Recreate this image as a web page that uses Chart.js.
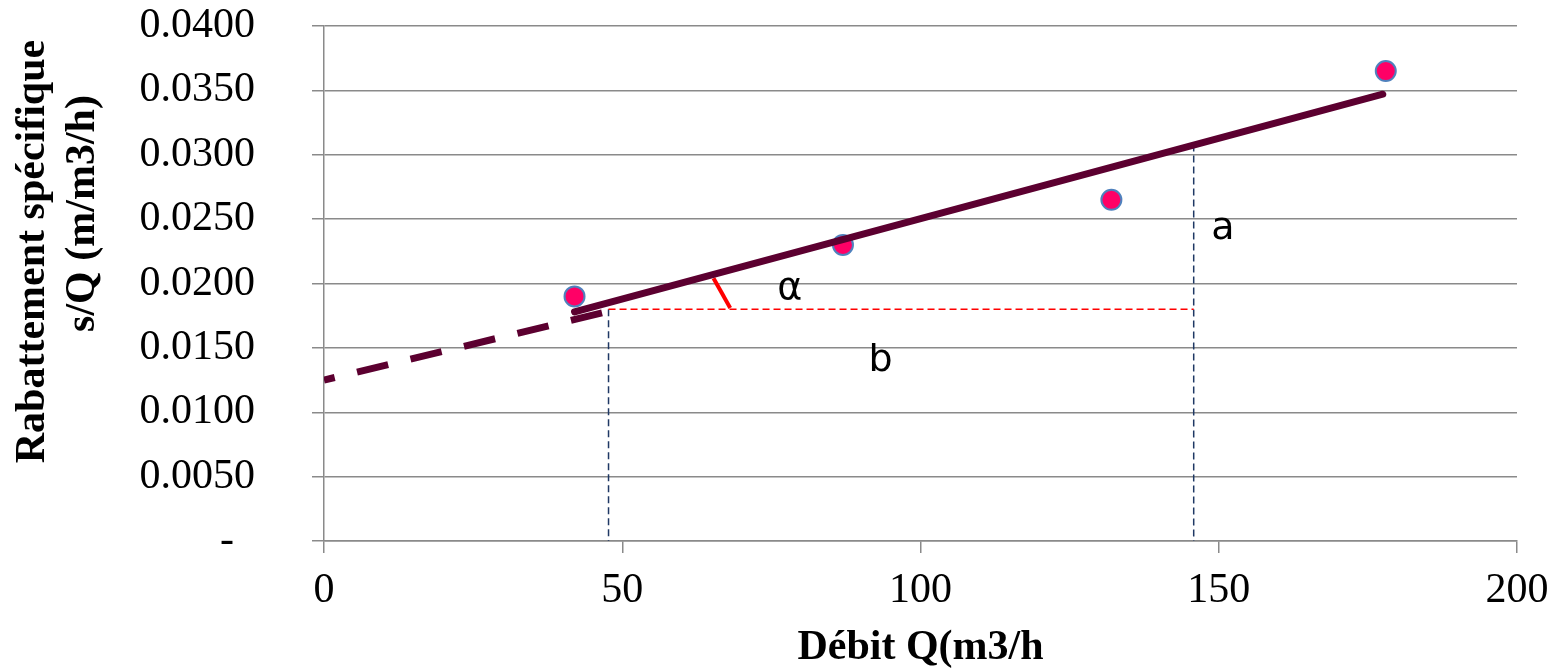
<!DOCTYPE html>
<html>
<head>
<meta charset="utf-8">
<script src="https://cdn.jsdelivr.net/npm/chart.js@4.4.1/dist/chart.umd.min.js"></script>
<style>
  html, body { margin: 0; padding: 0; background: #ffffff; }
  canvas { display: block; }
</style>
</head>
<body>
<canvas id="c" width="1557" height="670"></canvas>
<script>
// Débit (m3/h) and rabattement spécifique s/Q for each pumping step
const debitQ = [42, 87, 132, 178];
const rabattementSQ = [0.019, 0.023, 0.0265, 0.0365];

// fitted straight line over the measured range
const droiteQ = [42, 177.5];
const droiteSQ = [0.0178, 0.0347];

// its extension back to Q = 0 (dashed)
const prolongQ = [0, 47.4];
const prolongSQ = [0.0125, 0.0178];

// slope construction: horizontal b, verticals at both ends, angle mark
const baseQ = [47.7, 145.8];
const baseSQ = [0.018, 0.018];
const vertGaucheQ = [47.7, 47.7];
const vertGaucheSQ = [0.018, 0];
const vertDroiteQ = [145.8, 145.8];
const vertDroiteSQ = [0.0308, 0];
const angleQ = [65.3, 68.1];
const angleSQ = [0.0204, 0.0181];

// axis ticks
const xTickValues = [0, 50, 100, 150, 200];
const yTickLabels = ['-', '0.0050', '0.0100', '0.0150', '0.0200', '0.0250', '0.0300', '0.0350', '0.0400'];

// axis titles
const xTitle = 'Débit Q(m3/h';
const yTitle = ['Rabattement spécifique', 's/Q (m/m3/h)'];

// letters written next to the construction
const notes = [
  { text: 'α', q: 78.1, sq: 0.0196 },
  { text: 'a', q: 150.7, sq: 0.0242 },
  { text: 'b', q: 93.3, sq: 0.0140 }
];

const pts = (xs, ys) => xs.map((x, i) => ({ x: x, y: ys[i] }));

const GRID = '#8a8a8a';
const SERIF = "'Liberation Serif', 'Times New Roman', serif";

// letters α, a, b placed in data coordinates
const notesPlugin = {
  id: 'notes',
  afterDatasetsDraw(chart) {
    const ctx = chart.ctx;
    const xs = chart.scales.x, ys = chart.scales.y;
    ctx.save();
    ctx.fillStyle = '#000000';
    ctx.font = "38px 'DejaVu Sans', sans-serif";
    ctx.textAlign = 'center';
    ctx.textBaseline = 'middle';
    notes.forEach(n => {
      ctx.fillText(n.text, xs.getPixelForValue(n.q), ys.getPixelForValue(n.sq));
    });
    ctx.restore();
  }
};

// rotated two-line title of the value axis
const yTitlePlugin = {
  id: 'yTitle',
  afterDraw(chart) {
    const ctx = chart.ctx;
    const area = chart.chartArea;
    const mid = (area.top + area.bottom) / 2;
    const lineX = [33, 83];
    const lineShift = [-32, -70];
    ctx.save();
    ctx.fillStyle = '#000000';
    ctx.font = "bold 42px " + SERIF;
    ctx.textAlign = 'center';
    ctx.textBaseline = 'middle';
    yTitle.forEach((line, i) => {
      ctx.save();
      ctx.translate(lineX[i], mid + lineShift[i]);
      ctx.rotate(-Math.PI / 2);
      ctx.fillText(line, 0, 0);
      ctx.restore();
    });
    ctx.restore();
  }
};

new Chart(document.getElementById('c'), {
  type: 'scatter',
  data: {
    datasets: [
      {
        data: pts(droiteQ, droiteSQ),
        showLine: true,
        borderColor: '#5C0030',
        borderWidth: 7,
        borderCapStyle: 'round',
        pointRadius: 0,
        order: 0
      },
      {
        data: pts(debitQ, rabattementSQ),
        showLine: false,
        pointRadius: 10,
        pointBackgroundColor: '#FF0066',
        pointBorderColor: '#4F81BD',
        pointBorderWidth: 2,
        order: 1
      },
      {
        data: pts(prolongQ, prolongSQ),
        showLine: true,
        borderColor: '#5C0030',
        borderWidth: 7,
        borderCapStyle: 'butt',
        borderDash: [32, 23],
        borderDashOffset: 21,
        pointRadius: 0,
        order: 2
      },
      {
        data: pts(baseQ, baseSQ),
        showLine: true,
        borderColor: '#FF0000',
        borderWidth: 1.5,
        borderDash: [7, 4],
        pointRadius: 0,
        order: 3
      },
      {
        data: pts(vertGaucheQ, vertGaucheSQ),
        showLine: true,
        borderColor: '#1F3864',
        borderWidth: 1.5,
        borderDash: [7, 4],
        pointRadius: 0,
        order: 3
      },
      {
        data: pts(vertDroiteQ, vertDroiteSQ),
        showLine: true,
        borderColor: '#1F3864',
        borderWidth: 1.5,
        borderDash: [7, 4],
        pointRadius: 0,
        order: 3
      },
      {
        data: pts(angleQ, angleSQ),
        showLine: true,
        borderColor: '#FF0000',
        borderWidth: 4,
        pointRadius: 0,
        order: 3
      }
    ]
  },
  options: {
    responsive: false,
    animation: false,
    devicePixelRatio: 1,
    layout: { padding: { top: 26, right: 40, bottom: 0, left: 0 } },
    plugins: {
      legend: { display: false },
      tooltip: { enabled: false }
    },
    scales: {
      x: {
        type: 'linear',
        min: 0,
        max: 200,
        afterFit: s => { s.height = 129; s.paddingLeft = 0; s.paddingRight = 0; },
        afterBuildTicks: s => { s.ticks = xTickValues.map(v => ({ value: v })); },
        grid: { drawOnChartArea: false, drawTicks: true, tickLength: 12, color: GRID, lineWidth: 1.5 },
        border: { display: true, color: GRID, width: 1.5 },
        ticks: {
          color: '#000000',
          font: { family: SERIF, size: 42, lineHeight: 1.2 },
          padding: 13,
          maxRotation: 0,
          callback: v => String(v)
        },
        title: {
          display: true,
          text: xTitle,
          color: '#000000',
          font: { family: SERIF, size: 42, weight: 'bold', lineHeight: 1.0 },
          padding: { top: 0, bottom: 1 }
        }
      },
      y: {
        type: 'linear',
        min: 0,
        max: 0.04,
        afterFit: s => { s.width = 324; s.paddingTop = 0; s.paddingBottom = 0; },
        grid: { drawTicks: true, tickLength: 12, color: GRID, lineWidth: 1.5 },
        border: { display: true, color: GRID, width: 1.5 },
        ticks: {
          stepSize: 0.005,
          color: '#000000',
          font: { family: SERIF, size: 42, lineHeight: 1.2 },
          padding: 57,
          callback: (v, i) => (i === 0 ? yTickLabels[i] + '  ' : yTickLabels[i])
        },
        title: { display: false }
      }
    }
  },
  plugins: [notesPlugin, yTitlePlugin]
});
</script>
</body>
</html>
